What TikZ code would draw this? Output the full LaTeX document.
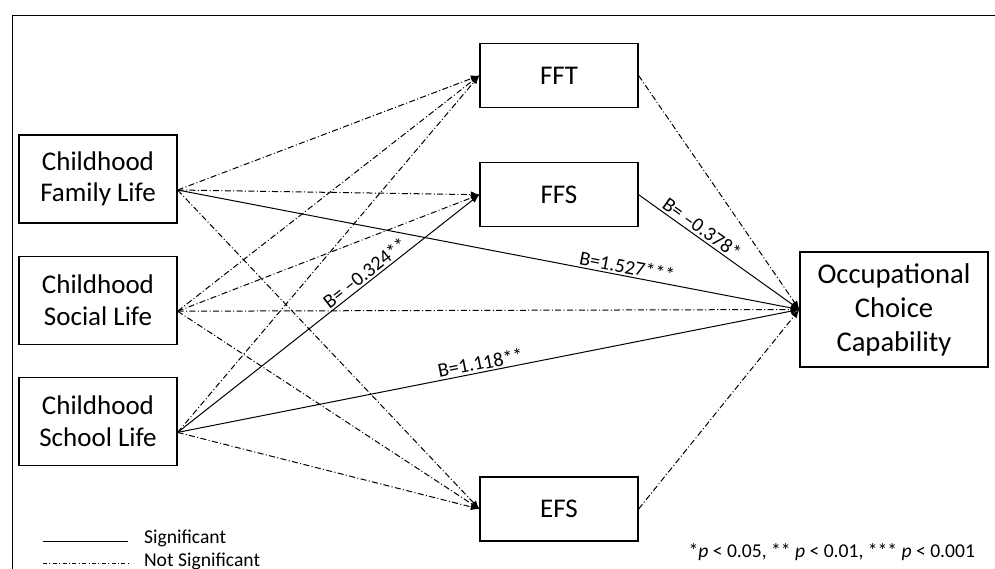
\documentclass[tikz,border=0pt]{standalone}
\usepackage{fontspec}
\setmainfont{Carlito}
\usepackage{tikz}
\usetikzlibrary{positioning}

\begin{document}
\begin{tikzpicture}[
		x=0.5pt, y=-0.5pt, >=latex,
		leftbox/.style={rectangle, draw=black, line width=0.6pt, minimum width=79pt, minimum height=44pt, align=center, font=\fontsize{13.5}{15.7}\selectfont},
		midbox/.style={rectangle, draw=black, line width=0.6pt, minimum width=79pt, minimum height=32pt, font=\fontsize{13.5}{15.7}\selectfont},
		outbox/.style={rectangle, draw=black, line width=0.6pt, minimum width=94pt, minimum height=57.5pt, align=center, font=\fontsize{14.3}{17}\selectfont},
		sig/.style={->, line width=0.5pt},
		nsig/.style={->, line width=0.5pt, dash pattern=on 3pt off 1.2pt on 0.5pt off 1.2pt},
		coef/.style={font=\fontsize{10}{11}\selectfont, sloped, above, inner sep=1pt},
	]

		\clip (0,0) rectangle (995,568);
		\draw[line width=0.5pt] (12,15) rectangle (1020,600);

		%Nodes
		\node[leftbox]		(cfl) at (98,179)		{Childhood\\Family Life};
		\node[leftbox]		(csl) [below=16pt of cfl]	{Childhood\\Social Life};
		\node[leftbox]		(csch) [below=16pt of csl]	{Childhood\\School Life};
		\node[midbox]		(fft) at (559,75.5)		{FFT};
		\node[midbox]		(ffs) [below=27pt of fft]	{FFS};
		\node[midbox]		(efs) at (559,509)		{EFS};
		\node[outbox]		(occ) at (894,309.5)	{Occupational\\Choice\\Capability};

		%Lines
		\draw[nsig]	([yshift=-5.5pt]cfl.east) -- (fft.west);
		\draw[nsig]	([yshift=-5.5pt]cfl.east) -- (ffs.west);
		\draw[nsig]	([yshift=-5.5pt]cfl.east) -- (efs.west);
		\draw[sig]	([yshift=-5.5pt]cfl.east) -- node[coef, pos=0.72] {B=1.527***} (occ.west);

		\draw[nsig]	([yshift=-5.5pt]csl.east) -- (fft.west);
		\draw[nsig]	([yshift=-5.5pt]csl.east) -- (ffs.west);
		\draw[nsig]	([yshift=-5.5pt]csl.east) -- (efs.west);
		\draw[nsig]	([yshift=-5.5pt]csl.east) -- (occ.west);

		\draw[nsig]	([yshift=-5.5pt]csch.east) -- (fft.west);
		\draw[sig]	([yshift=-5.5pt]csch.east) -- node[coef, pos=0.64] {B= –0.324**} (ffs.west);
		\draw[nsig]	([yshift=-5.5pt]csch.east) -- (efs.west);
		\draw[sig]	([yshift=-5.5pt]csch.east) -- node[coef, pos=0.49] {B=1.118**} (occ.west);

		\draw[nsig]	(fft.east) -- (occ.west);
		\draw[sig]	(ffs.east) -- node[coef, pos=0.36] {B= –0.378*} (occ.west);
		\draw[nsig]	(efs.east) -- (occ.west);

		%Legend
		\coordinate (s1) at (43,541);
		\coordinate (s2) at (128,541);
		\coordinate (n1) at (43,563);
		\coordinate (n2) at (128,563);
		\draw[line width=0.5pt]	(s1) -- (s2);
		\draw[line width=0.5pt, dash pattern=on 2pt off 1.2pt on 0.5pt off 1.2pt]	(n1) -- (n2);
		\node[anchor=west, font=\fontsize{9.8}{10}\selectfont] (sigtxt) at (137,538) {Significant};
		\node[anchor=west, font=\fontsize{9.8}{10}\selectfont] (nsigtxt) at (137,561) {Not Significant};
		\node[anchor=east, font=\fontsize{9.8}{11}\selectfont] (pnote) at (982,552) {*\textit{p} < 0.05, ** \textit{p} < 0.01, *** \textit{p} < 0.001};

\end{tikzpicture}
\end{document}
